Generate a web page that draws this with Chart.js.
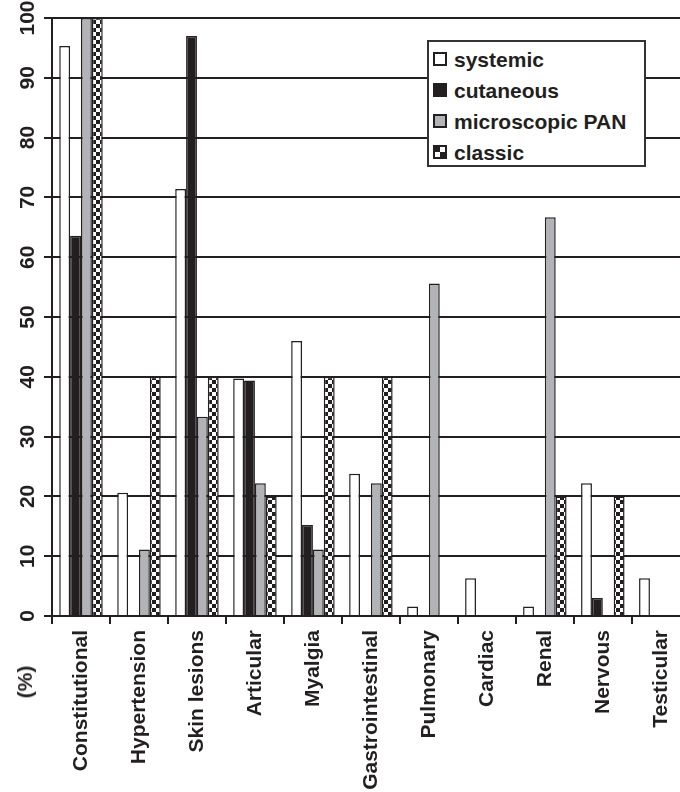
<!DOCTYPE html>
<html>
<head>
<meta charset="utf-8">
<script src="https://cdn.jsdelivr.net/npm/chart.js@4.4.1/dist/chart.umd.min.js"></script>
<style>
  html, body { margin: 0; padding: 0; background: #fff; overflow: hidden; }
  #wrap { position: relative; width: 692px; height: 792px; }
  #legend {
    position: absolute; left: 427px; top: 40px; width: 215px; height: 123px;
    border: 2px solid #333; background: #fff;
    font: bold 21px "Liberation Sans", Arial, sans-serif; color: #231f20;
  }
  #legend .item { position: absolute; left: 4px; height: 24px; line-height: 24px; white-space: nowrap; }
  #legend .sw {
    display: inline-block; width: 10px; height: 10px; border: 2px solid #231f20;
    vertical-align: middle; margin-right: 7px; position: relative; top: -2px;
  }
  #ylab {
    position: absolute; left: 25px; top: 682px;
    transform: translate(-50%, -50%) rotate(-90deg);
    font: bold 21px "Liberation Sans", Arial, sans-serif; color: #231f20; white-space: nowrap;
  }
</style>
</head>
<body>
<div id="wrap">
  <canvas id="chart" width="692" height="792"></canvas>
  <div id="legend"></div>
  <div id="ylab">(%)</div>
</div>
<script>
// Data //
var categories = ['Constitutional', 'Hypertension', 'Skin lesions', 'Articular', 'Myalgia',
                  'Gastrointestinal', 'Pulmonary', 'Cardiac', 'Renal', 'Nervous', 'Testicular'];
var seriesNames = ['systemic', 'cutaneous', 'microscopic PAN', 'classic'];
var systemic    = [95.3, 20.6, 71.4, 39.7, 46.0, 23.8, 1.6, 6.3, 1.6, 22.2, 6.3];
var cutaneous   = [63.6, 0, 97.0, 39.4, 15.2, 0, 0, 0, 0, 3.0, 0];
var microscopic = [100, 11.1, 33.3, 22.2, 11.1, 22.2, 55.6, 0, 66.7, 0, 0];
var classic     = [100, 40, 40, 20, 40, 40, 0, 0, 20, 20, 0];
var yTicks      = [0, 10, 20, 30, 40, 50, 60, 70, 80, 90, 100];

var ink = '#231f20';

// checker pattern for "classic" //
function checker() {
    var c = document.createElement('canvas');
    c.width = 8; c.height = 8;
    var g = c.getContext('2d');
    g.fillStyle = '#fff';
    g.fillRect(0, 0, 8, 8);
    g.fillStyle = ink;
    g.fillRect(0, 0, 4, 4);
    g.fillRect(4, 4, 4, 4);
    return g.createPattern(c, 'repeat');
}

var fills = ['#ffffff', ink, '#b1b3b6', checker()];
var values = [systemic, cutaneous, microscopic, classic];

var datasets = seriesNames.map(function(name, i) {
    return {
        label: name,
        data: values[i],
        backgroundColor: fills[i],
        borderColor: ink,
        borderWidth: 1.5,
        borderSkipped: 'start',
        categoryPercentage: 0.75,
        barPercentage: 1.0
    };
});

var font = { family: '"Liberation Sans", Arial, sans-serif', size: 21, weight: 'bold' };

var chart = new Chart(document.getElementById('chart'), {
    type: 'bar',
    data: { labels: categories, datasets: datasets },
    options: {
        responsive: false,
        animation: false,
        devicePixelRatio: 1,
        layout: { padding: { top: 18, right: 0, bottom: 0, left: 0 } },
        plugins: { legend: { display: false }, tooltip: { enabled: false } },
        scales: {
            x: {
                grid: { display: true, drawOnChartArea: false, drawTicks: true, tickLength: 8, color: ink, lineWidth: 2 },
                border: { display: true, color: ink, width: 2 },
                ticks: { font: font, color: ink, minRotation: 90, maxRotation: 90, padding: 6, autoSkip: false },
                afterFit: function(scale) { scale.height = 176; }
            },
            y: {
                min: 0, max: 100,
                afterBuildTicks: function(scale) {
                    scale.ticks = yTicks.map(function(v) { return { value: v }; });
                },
                grid: { color: ink, lineWidth: 2, tickLength: 8 },
                border: { display: true, color: ink, width: 2 },
                ticks: { font: font, color: ink, minRotation: 90, maxRotation: 90, crossAlign: 'center', padding: -2 },
                afterFit: function(scale) { scale.width = 52; }
            }
        }
    }
});

// Legend //
var legend = document.getElementById('legend');
var swatchBg = ['#ffffff', ink, '#b1b3b6',
    'repeating-conic-gradient(#fff 0 25%, ' + ink + ' 0 50%) 0 0 / 10px 10px'];
seriesNames.forEach(function(name, i) {
    var item = document.createElement('div');
    item.className = 'item';
    item.style.top = (6 + i * 31) + 'px';
    var sw = document.createElement('span');
    sw.className = 'sw';
    sw.style.background = swatchBg[i];
    item.appendChild(sw);
    item.appendChild(document.createTextNode(name));
    legend.appendChild(item);
});
</script>
</body>
</html>
